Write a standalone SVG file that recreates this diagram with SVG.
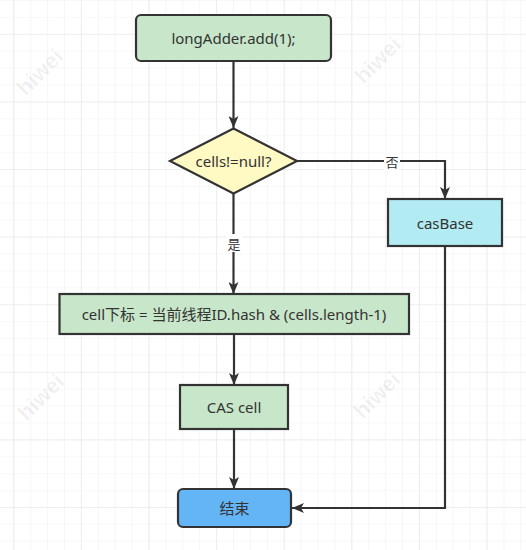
<svg xmlns="http://www.w3.org/2000/svg" width="526" height="550" viewBox="0 0 526 550">
<defs>
<pattern id="minor" x="13.3" y="0" width="16.9" height="16.9" patternUnits="userSpaceOnUse">
<path d="M0 0V16.9M0 0H16.9" fill="none" stroke="#f1f1f1" stroke-width="1.2"/>
</pattern>
<pattern id="major" x="13.3" y="33.8" width="67.6" height="67.6" patternUnits="userSpaceOnUse">
<path d="M0 0V67.6M0 0H67.6" fill="none" stroke="#e6e6e6" stroke-width="1.2"/>
</pattern>
<marker id="arrow" viewBox="0 0 12 10" refX="12" refY="5" markerWidth="13" markerHeight="10" markerUnits="userSpaceOnUse" orient="auto">
<path d="M0 0 L12 5 L0 10 L3 5 Z" fill="#333"/>
</marker>
</defs>
<style>
.node { stroke: #333; stroke-width: 2.2; }
.lbl { font-family: "Noto Sans", "Noto Sans CJK SC", sans-serif; font-size: 15px; fill: #333; text-anchor: middle; dominant-baseline: central; }
.edge { fill: none; stroke: #333; stroke-width: 2.2; marker-end: url(#arrow); }
.elbl { font-family: "Noto Sans CJK SC", sans-serif; font-size: 13px; fill: #333; text-anchor: middle; dominant-baseline: central; }
.wm { font-family: "Liberation Sans", sans-serif; font-size: 22px; font-weight: bold; fill: #000; fill-opacity: 0.06; text-anchor: middle; dominant-baseline: central; }
</style>
<rect width="526" height="550" fill="#fff"/>
<rect width="526" height="550" fill="url(#minor)"/>
<rect width="526" height="550" fill="url(#major)"/>
<g id="watermarks">
<text class="wm" transform="translate(40,72) rotate(-45)">hiwei</text>
<text class="wm" transform="translate(378,60) rotate(-45)">hiwei</text>
<text class="wm" transform="translate(41,397) rotate(-45)">hiwei</text>
<text class="wm" transform="translate(377,395) rotate(-45)">hiwei</text>
</g>
<g id="connectors">
<path class="edge" d="M233.5 61 V128"/>
<path class="edge" d="M233.5 193 V294"/>
<path class="edge" d="M297 161 H445 V199"/>
<path class="edge" d="M234 334 V385"/>
<path class="edge" d="M234 429 V489"/>
<path class="edge" d="M445 246 V508 H292"/>
<rect x="226" y="234" width="16" height="18" fill="#fff"/>
<text class="elbl" x="234" y="243">是</text>
<rect x="384" y="152" width="16" height="18" fill="#fff"/>
<text class="elbl" x="392" y="161">否</text>
</g>
<g id="start">
<rect class="node" x="136" y="15" width="195" height="46" rx="5" fill="#c8e6c9"/>
<text class="lbl" x="233.5" y="38">longAdder.add(1);</text>
</g>
<g id="decision">
<polygon class="node" points="233.5,128.5 297,161 233.5,193.5 170,161" fill="#fff9c4"/>
<text class="lbl" x="233.5" y="161">cells!=null?</text>
</g>
<g id="casBase">
<rect class="node" x="388" y="199" width="114" height="47" fill="#b2ebf2"/>
<text class="lbl" x="445" y="222.5">casBase</text>
</g>
<g id="cellIndex">
<rect class="node" x="59.5" y="294" width="349.5" height="40" fill="#c8e6c9"/>
<text class="lbl" x="234" y="314">cell下标 = 当前线程ID.hash &amp; (cells.length-1)</text>
</g>
<g id="casCell">
<rect class="node" x="180" y="385" width="108" height="44" fill="#c8e6c9"/>
<text class="lbl" x="234" y="407">CAS cell</text>
</g>
<g id="end">
<rect class="node" x="178" y="489" width="113" height="38" rx="5" fill="#64b5f6"/>
<text class="lbl" x="234.5" y="508">结束</text>
</g>
</svg>
